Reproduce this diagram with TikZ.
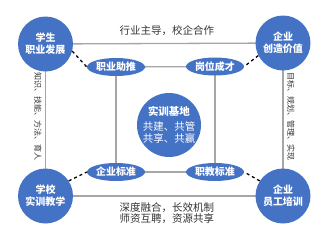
\documentclass[tikz,border=0pt]{standalone}
\usepackage{fontspec}
\setmainfont{Noto Sans CJK SC}
\usetikzlibrary{shapes.geometric}
\pgfdeclarelayer{bg}
\pgfsetlayers{bg,main}
\definecolor{bblue}{HTML}{4472C4}
\definecolor{lgray}{HTML}{A6A6A6}
\tikzset{
  bigc/.style={circle,fill=bblue,text=white,minimum size=55pt,inner sep=0pt,align=center,font=\fontsize{10}{12}\selectfont\bfseries},
  midc/.style={circle,fill=bblue,text=white,minimum size=61pt,inner sep=0pt,align=center,font=\fontsize{10.5}{12}\selectfont},
  ell/.style={ellipse,fill=bblue,text=white,minimum width=58pt,minimum height=18pt,inner sep=0pt,font=\fontsize{10}{12}\selectfont\bfseries},
  gline/.style={draw=lgray,line width=1.3pt},
  dline/.style={draw=black,line width=1.3pt,dash pattern=on 3pt off 3pt},
  lbl/.style={inner sep=0pt,align=center,text=black!80},
  vlbl/.style={inner sep=0pt,rotate=-90,text=black!80,font=\fontsize{8}{8}\selectfont}
}
\begin{document}
\begin{tikzpicture}[x=1pt,y=-1pt]
\useasboundingbox (0,0) rectangle (325,239);
% nodes
\node[bigc] (tl) at (45.5,44) {学生\\职业发展};
\node[bigc] (tr) at (283,43) {企业\\创造价值};
\node[bigc] (bl) at (45.5,196) {学校\\实训教学};
\node[bigc] (br) at (283,196) {企业\\员工培训};
\node[ell] (e1) at (116,67) {职业助推};
\node[ell] (e2) at (215,66.5) {岗位成才};
\node[ell] (e3) at (116,172) {企业标准};
\node[ell] (e4) at (215,172) {职教标准};
\node[midc] (c) at (169,125) {\textbf{实训基地}\\[3pt]共建、共管\\共享、共赢};
% connectors behind
\begin{pgfonlayer}{bg}
\path[gline] (tl.center) -- (tr.center);
\path[gline] (tl.center) -- (bl.center);
\path[gline] (tr.center) -- (br.center);
\path[gline] (bl.center) -- (br.center);
\path[gline] (e1.center) -- (e2.center);
\path[gline] (e1.center) -- (e3.center);
\path[gline] (e2.center) -- (e4.center);
\path[gline] (e3.center) -- (e4.center);
\end{pgfonlayer}
\path[dline] (tl.-15) -- (e1.west);
\path[dline] (tr.207) -- (e2.east);
\path[dline] (bl.33) -- (e3.west);
\path[dline] (br.147) -- (e4.east);
% labels
\node[lbl,font=\fontsize{10.5}{12}\selectfont] (t1) at (167,31) {行业主导，校企合作};
\node[lbl,font=\fontsize{10.5}{11}\selectfont] (t2) at (167,213) {深度融合，长效机制\\师资互聘，资源共享};
\node[vlbl] (v1) at (38,116) {知识、技能、方法、育人};
\node[vlbl] (v2) at (291,116) {目标、规划、管理、实现};
\end{tikzpicture}
\end{document}
